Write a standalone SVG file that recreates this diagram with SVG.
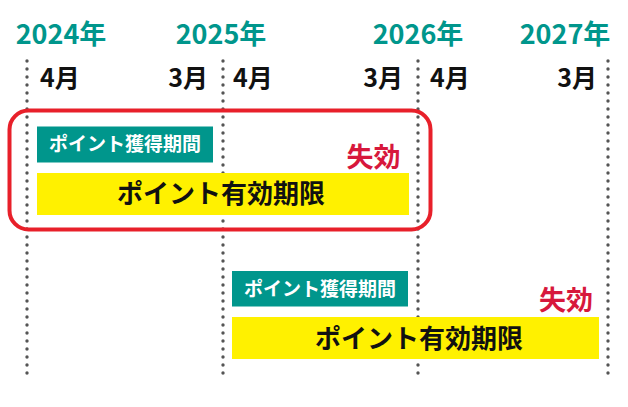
<svg xmlns="http://www.w3.org/2000/svg" width="628" height="407" viewBox="0 0 628 407">
<style>
text{font-family:"Noto Sans CJK JP","Noto Sans",sans-serif;font-weight:bold}
.year{font-size:27px;fill:#00968c;text-anchor:middle}
.mon{font-size:25px;fill:#111}
.dot{stroke:#555;stroke-width:3.4;stroke-linecap:round;stroke-dasharray:0 8;fill:none}
.acq{fill:#00968c}
.acqt{font-size:19px;fill:#fff;text-anchor:middle}
.val{fill:#fff100}
.valt{font-size:26px;fill:#111;text-anchor:middle}
.exp{font-size:27px;fill:#d7183c;text-anchor:middle}
</style>
<rect width="628" height="407" fill="#fff"/>
<g id="timeline">
<line class="dot" x1="27" y1="61" x2="27" y2="375"/>
<line class="dot" x1="223" y1="61" x2="223" y2="375"/>
<line class="dot" x1="418" y1="61" x2="418" y2="375"/>
<line class="dot" x1="608" y1="61" x2="608" y2="375"/>
</g>
<g id="years">
<text class="year" x="61" y="43.5">2024年</text>
<text class="year" x="221" y="43.5">2025年</text>
<text class="year" x="418" y="43.5">2026年</text>
<text class="year" x="565" y="43.5">2027年</text>
</g>
<g id="months">
<text class="mon" x="40" y="86.5">4月</text>
<text class="mon" x="208" y="86.5" text-anchor="end">3月</text>
<text class="mon" x="233" y="86.5">4月</text>
<text class="mon" x="403" y="86.5" text-anchor="end">3月</text>
<text class="mon" x="430" y="86.5">4月</text>
<text class="mon" x="597" y="86.5" text-anchor="end">3月</text>
</g>
<g id="highlight">
<rect x="9.5" y="110.5" width="421" height="119" rx="19" fill="none" stroke="#e8202a" stroke-width="4"/>
</g>
<g id="period1">
<rect class="acq" x="37" y="126.5" width="176" height="36"/>
<text class="acqt" x="125" y="151">ポイント獲得期間</text>
<rect class="val" x="37" y="173" width="372" height="42"/>
<text class="valt" x="221" y="203">ポイント有効期限</text>
<text class="exp" x="373.5" y="166.5">失効</text>
</g>
<g id="period2">
<rect class="acq" x="232" y="271" width="176" height="35.5"/>
<text class="acqt" x="320" y="295.5">ポイント獲得期間</text>
<rect class="val" x="232" y="317" width="367" height="42"/>
<text class="valt" x="419" y="347.5">ポイント有効期限</text>
<text class="exp" x="566" y="310">失効</text>
</g>
</svg>
